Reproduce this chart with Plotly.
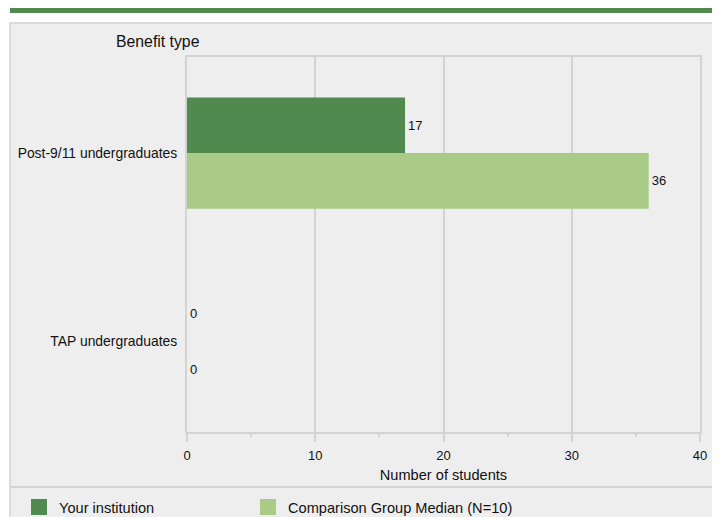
import plotly.graph_objects as go

categories = ["Post-9/11 undergraduates", "TAP undergraduates"]
your_institution = [17, 0]
comparison_median = [36, 0]
series_names = ["Your institution", "Comparison Group Median (N=10)"]
x_ticks = [0, 10, 20, 30, 40]

DARK = "#508a4e"
LIGHT = "#a9cb87"
PANEL = "#eeeeee"
GRID = "#d3d3d3"
FONT = "Liberation Sans, Arial, sans-serif"

# page has an 8px body margin; lay the figure out in page pixels minus 8
OFF = 8
W, H = 720 - OFF, 517 - OFF
L, R, T, B = 187 - OFF, 700 - OFF, 57 - OFF, 432 - OFF


def px(x):
    return (x - OFF - L) / (R - L)


def py(y):
    return (B - (y - OFF)) / (B - T)


fig = go.Figure()
for i, (name, vals, col) in enumerate([(series_names[0], your_institution, DARK),
                                       (series_names[1], comparison_median, LIGHT)]):
    fig.add_trace(go.Bar(
        y=categories, x=vals, orientation="h", name=name,
        marker=dict(color=col, line=dict(width=0)),
        texttemplate="%{x}", textposition="outside",
        textfont=dict(size=13, color="#111111", family=FONT),
        cliponaxis=False, showlegend=False,
    ))
    fig.add_trace(go.Scatter(
        x=[None], y=[None], mode="markers", name=name,
        marker=dict(symbol="square", size=16, color=col),
        showlegend=True, legend="legend" if i == 0 else "legend2",
    ))

shapes = [
    dict(type="rect", xref="paper", yref="paper", x0=px(10), x1=px(740),
         y0=py(23), y1=py(540), fillcolor=PANEL,
         line=dict(color=GRID, width=1.5), layer="below"),
    dict(type="rect", xref="paper", yref="paper", x0=px(10), x1=px(725),
         y0=py(8), y1=py(13), fillcolor=DARK, line=dict(width=0), layer="below"),
    dict(type="line", xref="paper", yref="paper", x0=px(10), x1=px(725),
         y0=py(487), y1=py(487), line=dict(color=GRID, width=2), layer="below"),
]

legend_common = dict(orientation="h", xref="container", yref="container",
                     y=1 - (507 - OFF) / H, xanchor="left", yanchor="middle",
                     font=dict(size=14.6, color="#111111"),
                     bgcolor="rgba(0,0,0,0)")

fig.update_layout(
    width=W, height=H,
    margin=dict(l=L, r=W - R, t=T, b=H - B, autoexpand=False),
    paper_bgcolor="white", plot_bgcolor=PANEL,
    font=dict(family=FONT, size=13, color="#111111"),
    barmode="group", bargap=0.41, bargroupgap=0,
    shapes=shapes,
    annotations=[dict(text="Benefit type", xref="paper", yref="paper",
                      x=px(158), y=py(42), xanchor="center", yanchor="middle",
                      showarrow=False,
                      font=dict(size=15.8, color="#111111"))],
    legend=dict(x=11 / W, **legend_common),
    legend2=dict(x=240 / W, **legend_common),
    xaxis=dict(range=[0, 40], tickvals=x_ticks, showgrid=True,
               gridcolor=GRID, gridwidth=2, zeroline=False,
               showline=True, mirror=True, linecolor=GRID, linewidth=2,
               ticks="outside", ticklen=8, tickwidth=2, tickcolor=GRID,
               minor=dict(dtick=5, ticks="outside", ticklen=3, tickwidth=2,
                          tickcolor=GRID, showgrid=False),
               tickfont=dict(size=13), ticklabelstandoff=2,
               title=dict(text="Number of students", font=dict(size=14.6),
                          standoff=8)),
    yaxis=dict(type="category", range=[1.48, -0.51], showgrid=False,
               zeroline=False, showline=True, mirror=True, linecolor=GRID,
               linewidth=2, ticks="", ticklabelstandoff=5,
               tickfont=dict(size=13.9)),
)

fig.write_html("out.html")
